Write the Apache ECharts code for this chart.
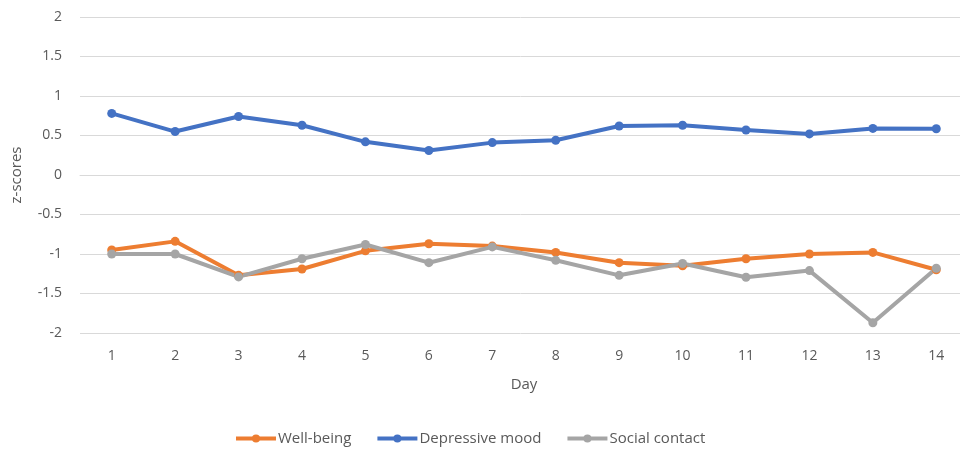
<!DOCTYPE html>
<html>
<head>
<meta charset="utf-8">
<script src="https://cdn.jsdelivr.net/npm/echarts@6/dist/echarts.min.js"></script>
<style>
  html, body { margin: 0; padding: 0; background: #fff; }
  #chart { width: 960px; height: 450px; }
</style>
</head>
<body>
<div id="chart"></div>
<script>
// Daily z-scores over a two-week period
const days = ['1','2','3','4','5','6','7','8','9','10','11','12','13','14'];
const wellBeing = [-0.95, -0.84, -1.27, -1.19, -0.96, -0.87, -0.90, -0.98, -1.11, -1.15, -1.06, -1.00, -0.98, -1.20];
const depressiveMood = [0.78, 0.55, 0.74, 0.63, 0.42, 0.31, 0.41, 0.44, 0.62, 0.63, 0.57, 0.52, 0.59, 0.585];
const socialContact = [-1.00, -1.00, -1.29, -1.06, -0.88, -1.11, -0.91, -1.08, -1.27, -1.12, -1.295, -1.21, -1.87, -1.18];
const yTicks = { min: -2, max: 2, interval: 0.5 };

const FONT = '"Open Sans", "Noto Sans", sans-serif';
const TEXT = '#595959';

function lineSeries(name, data, color) {
  return {
    name, type: 'line', data,
    symbol: 'circle', symbolSize: 9,
    lineStyle: { width: 4, color },
    itemStyle: { color },
    emphasis: { disabled: true }
  };
}

const chart = echarts.init(document.getElementById('chart'));
chart.setOption({
  animation: false,
  textStyle: { fontFamily: FONT },
  // plot area runs slightly past the right edge of the canvas
  grid: { left: 80, top: 17, width: 888, height: 316, containLabel: false, outerBoundsMode: 'none' },
  legend: {
    bottom: 4, left: 234, padding: 0,
    itemWidth: 40, itemHeight: 10, itemGap: 24,
    lineStyle: { width: 4 },
    textStyle: { color: TEXT, fontSize: 15, fontFamily: FONT, padding: [0, 0, 0, -3] },
    data: ['Well-being', 'Depressive mood', 'Social contact']
  },
  xAxis: {
    type: 'category', data: days, boundaryGap: true,
    name: 'Day', nameLocation: 'middle', nameGap: 44,
    nameTextStyle: { color: TEXT, fontSize: 15, fontFamily: FONT },
    axisLine: { lineStyle: { color: '#d9d9d9', width: 1 } },
    axisTick: { show: false },
    axisLabel: { color: TEXT, fontSize: 14, margin: 16 }
  },
  yAxis: {
    type: 'value', min: yTicks.min, max: yTicks.max, interval: yTicks.interval,
    name: 'z-scores', nameLocation: 'middle', nameGap: 56, nameRotate: 90,
    nameTextStyle: { color: TEXT, fontSize: 15, fontFamily: FONT },
    axisLine: { show: false },
    axisTick: { show: false },
    axisLabel: { color: TEXT, fontSize: 14, margin: 18 },
    splitLine: { lineStyle: { color: '#d9d9d9', width: 1 } }
  },
  series: [
    lineSeries('Well-being', wellBeing, '#ED7D31'),
    lineSeries('Depressive mood', depressiveMood, '#4472C4'),
    lineSeries('Social contact', socialContact, '#A5A5A5')
  ]
});
</script>
</body>
</html>
